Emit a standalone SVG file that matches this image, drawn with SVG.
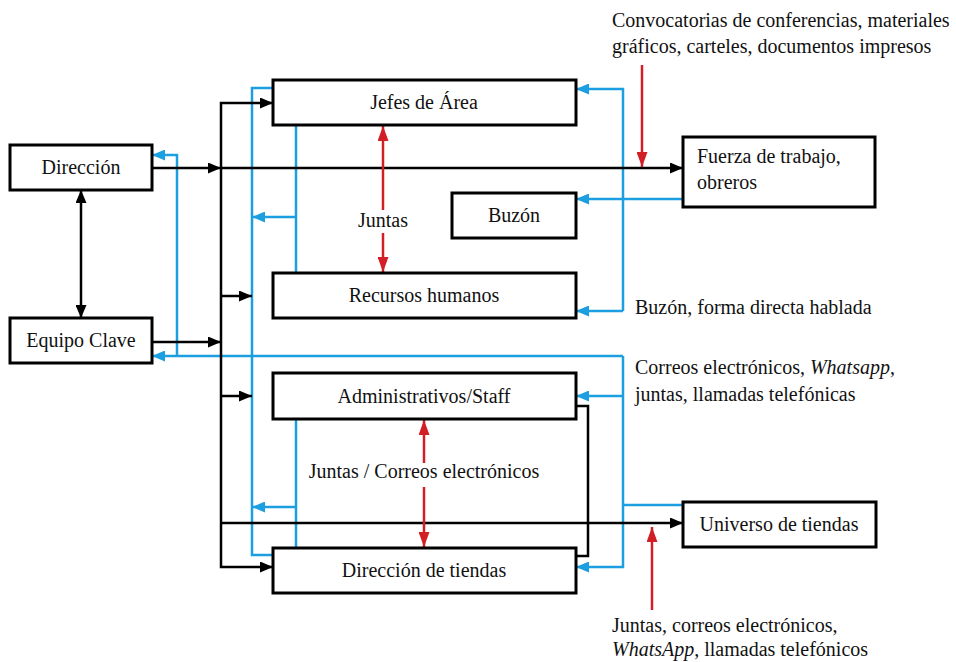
<svg xmlns="http://www.w3.org/2000/svg" width="956" height="662" viewBox="0 0 956 662">
  <style>
    .box { fill: #fff; stroke: #000; stroke-width: 3; }
    .lbl { font-family: "Liberation Serif", "DejaVu Serif", serif; font-size: 20px; fill: #111; }
    .mid { text-anchor: middle; }
    .k { fill: none; stroke: #000; stroke-width: 2.5; }
    .b { fill: none; stroke: #1b9fe0; stroke-width: 2.5; }
    .r { fill: none; stroke: #d21f26; stroke-width: 2.5; }
    .ka { marker-end: url(#arrK); }
    .ba { marker-end: url(#arrB); }
    .ra { marker-end: url(#arrR); }
  </style>
  <defs>
    <marker id="arrK" viewBox="0 0 13 11" refX="13" refY="5.5" markerWidth="13" markerHeight="11" orient="auto-start-reverse" markerUnits="userSpaceOnUse">
      <path d="M0,0 L13,5.5 L0,11 z" fill="#000"/>
    </marker>
    <marker id="arrB" viewBox="0 0 13 11" refX="13" refY="5.5" markerWidth="13" markerHeight="11" orient="auto-start-reverse" markerUnits="userSpaceOnUse">
      <path d="M0,0 L13,5.5 L0,11 z" fill="#1b9fe0"/>
    </marker>
    <marker id="arrR" viewBox="0 0 15 11" refX="15" refY="5.5" markerWidth="15" markerHeight="11" orient="auto-start-reverse" markerUnits="userSpaceOnUse">
      <path d="M0,0 L15,5.5 L0,11 z" fill="#d21f26"/>
    </marker>
  </defs>
  <rect width="956" height="662" fill="#fff"/>

  <!-- connectors -->
  <g id="connectors">
    <!-- blue feedback lines -->
    <path class="b" d="M273,88 H252 V555 H273"/>
    <path class="b" d="M296,125 V273"/>
    <path class="b ba" d="M296,217 H252"/>
    <path class="b" d="M296,419 V548"/>
    <path class="b ba" d="M296,507 H252"/>
    <path class="b ba" d="M177,356 V155 H152"/>
    <path class="b ba" d="M623,356 H152"/>
    <path class="b ba" d="M623,356 V567 H576"/>
    <path class="b ba" d="M623,396 H576"/>
    <path class="b" d="M623,505 H683"/>
    <path class="b ba" d="M623,311 V89 H576"/>
    <path class="b ba" d="M623,311 H576"/>
    <path class="b ba" d="M683,199 H576"/>

    <!-- black distribution lines -->
    <path class="k ka" d="M81,190 V318" marker-start="url(#arrK)"/>
    <path class="k ka" d="M152,168 H221"/>
    <path class="k ka" d="M221,168 H683"/>
    <path class="k ka" d="M152,342 H221"/>
    <path class="k ka" d="M221,296 V103 H273"/>
    <path class="k ka" d="M221,296 V567 H273"/>
    <path class="k ka" d="M221,296 H252"/>
    <path class="k ka" d="M221,396 H252"/>
    <path class="k ka" d="M221,523 H683"/>
    <path class="k" d="M576,406 H588 V556 H576"/>

    <!-- red channel arrows -->
    <path class="r ra" d="M383,210 V126"/>
    <path class="r ra" d="M383,233 V272"/>
    <path class="r ra" d="M424,463 V420"/>
    <path class="r ra" d="M424,487 V547"/>
    <path class="r ra" d="M642,65 V167"/>
    <path class="r ra" d="M652,610 V527"/>
  </g>

  <!-- nodes -->
  <g id="direccion">
    <rect class="box" x="10" y="145" width="142" height="45"/>
    <text class="lbl mid" x="81" y="174">Dirección</text>
  </g>
  <g id="equipo-clave">
    <rect class="box" x="10" y="318" width="142" height="45"/>
    <text class="lbl mid" x="81" y="347">Equipo Clave</text>
  </g>
  <g id="jefes-area">
    <rect class="box" x="273" y="80" width="303" height="45"/>
    <text class="lbl mid" x="424" y="109">Jefes de Área</text>
  </g>
  <g id="buzon">
    <rect class="box" x="452" y="193" width="124" height="45"/>
    <text class="lbl mid" x="514" y="222">Buzón</text>
  </g>
  <g id="recursos-humanos">
    <rect class="box" x="273" y="273" width="303" height="45"/>
    <text class="lbl mid" x="424" y="302">Recursos humanos</text>
  </g>
  <g id="administrativos">
    <rect class="box" x="273" y="373" width="303" height="46"/>
    <text class="lbl mid" x="424" y="403">Administrativos/Staff</text>
  </g>
  <g id="direccion-tiendas">
    <rect class="box" x="273" y="548" width="303" height="45"/>
    <text class="lbl mid" x="424" y="577">Dirección de tiendas</text>
  </g>
  <g id="fuerza-trabajo">
    <rect class="box" x="683" y="137" width="192" height="70"/>
    <text class="lbl" x="697" y="163">Fuerza de trabajo,</text>
    <text class="lbl" x="697" y="189">obreros</text>
  </g>
  <g id="universo-tiendas">
    <rect class="box" x="683" y="502" width="193" height="45"/>
    <text class="lbl mid" x="779" y="531">Universo de tiendas</text>
  </g>

  <!-- channel labels -->
  <g id="labels">
    <text class="lbl mid" x="383" y="227">Juntas</text>
    <text class="lbl mid" x="424" y="478">Juntas / Correos electrónicos</text>
    <text class="lbl" x="612" y="27">Convocatorias de conferencias, materiales</text>
    <text class="lbl" x="612" y="53">gráficos, carteles, documentos impresos</text>
    <text class="lbl" x="635" y="314">Buzón, forma directa hablada</text>
    <text class="lbl" x="635" y="374">Correos electrónicos, <tspan font-style="italic">Whatsapp</tspan>,</text>
    <text class="lbl" x="635" y="401">juntas, llamadas telefónicas</text>
    <text class="lbl" x="612" y="632">Juntas, correos electrónicos,</text>
    <text class="lbl" x="612" y="656"><tspan font-style="italic">WhatsApp</tspan>, llamadas telefónicos</text>
  </g>
</svg>
